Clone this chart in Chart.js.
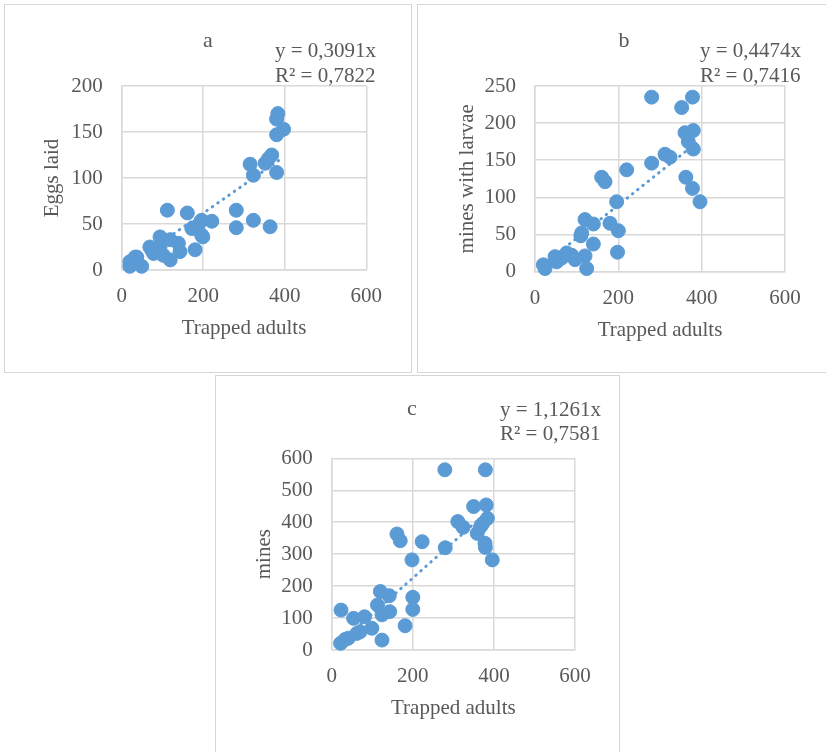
<!DOCTYPE html>
<html>
<head>
<meta charset="utf-8">
<script src="https://cdn.jsdelivr.net/npm/chart.js@4.4.1/dist/chart.umd.min.js"></script>
<style>
  html, body { margin: 0; padding: 0; background: #ffffff; overflow: hidden; }
  #page { position: relative; width: 826px; height: 752px; overflow: hidden; background: #fff; }
  .box { position: absolute; border: 1px solid #d6d6d6; box-sizing: border-box; }
  canvas { position: absolute; left: 0; top: 0; }
</style>
</head>
<body>
<div id="page">
  <div class="box" style="left:4px;top:4px;width:408px;height:369px;"></div>
  <div class="box" style="left:417px;top:4px;width:420px;height:369px;"></div>
  <div class="box" style="left:215px;top:375px;width:405px;height:400px;"></div>
  <canvas id="ca" width="826" height="752"></canvas>
  <canvas id="cb" width="826" height="752"></canvas>
  <canvas id="cc" width="826" height="752"></canvas>
</div>
<script>
// ---- Data ----
const xTicks = [0, 200, 400, 600];
const xTitle = 'Trapped adults';

// Panel a: Eggs laid vs trapped adults
const adultsA = [383,380,397,380,368,360,352,380,315,323,112,161,281,281,323,364,221,196,172,196,199,180,94,139,119,69,143,119,94,37,20,49,20,102,78,188,33];
const eggsA   = [170,164,153,147,125,121,116,106,115,103,65,62,65,46,54,47,53,54,45,38,36,22,36,29,33,25,20,11,25,14,9,4,4,16,18,49,14];
const slopeA = 0.3091;
const eqA = ['y = 0,3091x', 'R² = 0,7822'];

// Panel b: mines with larvae vs trapped adults
const adultsB = [280,378,352,360,380,368,380,312,324,280,220,160,168,362,378,396,196,180,200,120,140,112,140,198,120,124,96,76,48,52,20,24,64,88,110];
const larvaeB = [235,235,221,187,190,175,165,158,154,146,137,127,121,127,112,94,94,65,55,70,64,52,37,26,21,4,16,25,20,13,9,4,18,22,48];
const slopeB = 0.4474;
const eqB = ['y = 0,4474x', 'R² = 0,7416'];

// Panel c: mines vs trapped adults
const adultsC = [279,379,350,381,384,367,359,378,379,396,311,324,280,223,161,169,198,120,142,200,200,113,124,143,23,54,81,99,181,124,62,41,22,33,70,372];
const minesC  = [564,564,449,454,412,386,365,334,321,282,402,384,320,339,363,342,282,183,170,165,127,141,110,120,125,99,104,68,76,31,52,37,21,33,57,395];
const slopeC = 1.1261;
const eqC = ['y = 1,1261x', 'R² = 0,7581'];

// ---- Styling ----
const FONT = '"Liberation Serif", "Times New Roman", serif';
const TXT = '#595959';
const GRID = '#d9d9d9';
const BLUE = '#5B9BD5';

const textPlugin = {
  id: 'texts',
  afterDraw(chart, args, opts) {
    const ctx = chart.ctx;
    ctx.save();
    ctx.fillStyle = TXT;
    ctx.textBaseline = 'alphabetic';
    (opts.items || []).forEach(it => {
      ctx.font = it.size + 'px ' + FONT;
      ctx.textAlign = it.align || 'left';
      ctx.fillText(it.text, it.x, it.y);
    });
    ctx.restore();
  }
};

function makeChart(id, p) {
  const pts = p.xs.map((x, i) => ({ x: x, y: p.ys[i] }));
  const xmin = Math.min.apply(null, p.xs), xmax = Math.max.apply(null, p.xs);
  const trend = [{ x: xmin, y: p.slope * xmin }, { x: xmax, y: p.slope * xmax }];
  const half = 12.6;
  const font = { family: FONT, size: 21, lineHeight: 1.2 };
  new Chart(document.getElementById(id), {
    type: 'scatter',
    data: {
      datasets: [
        { type: 'line', data: trend, borderColor: BLUE, borderWidth: 3, borderDash: [0.5, 6.2],
          borderCapStyle: 'round', pointRadius: 0, fill: false, order: 0, clip: false },
        { data: pts, backgroundColor: BLUE, borderColor: BLUE, borderWidth: 1, pointRadius: 7,
          pointHoverRadius: 7, order: 1, clip: false }
      ]
    },
    options: {
      responsive: false, animation: false, devicePixelRatio: 1,
      events: [],
      layout: { padding: { left: p.yTitleX - half, top: p.t, right: 826 - p.r, bottom: 752 - p.xTitleY - half } },
      plugins: { legend: { display: false }, tooltip: { enabled: false }, texts: { items: p.texts } },
      scales: {
        x: {
          type: 'linear', min: 0, max: 600,
          afterBuildTicks: s => { s.ticks = xTicks.map(v => ({ value: v })); },
          ticks: { color: TXT, font: font, padding: 14 },
          grid: { color: GRID, lineWidth: 1.5, drawTicks: false },
          border: { display: true, color: GRID, width: 1.5 },
          title: { display: true, text: xTitle, color: TXT, font: font, padding: 0 },
          afterFit: s => { s.height = p.xTitleY + half - p.b; }
        },
        y: {
          type: 'linear', min: 0, max: p.yMax,
          afterBuildTicks: s => { s.ticks = p.yTicks.map(v => ({ value: v })); },
          ticks: { color: TXT, font: font, padding: 19 },
          grid: { color: GRID, lineWidth: 1.5, drawTicks: false },
          border: { display: true, color: GRID, width: 1.5 },
          title: { display: true, text: p.yTitle, color: TXT, font: font, padding: 0 },
          afterFit: s => { s.width = p.l - (p.yTitleX - half); }
        }
      }
    },
    plugins: [textPlugin]
  });
}

const yTicksA = [0, 50, 100, 150, 200];
const yTicksB = [0, 50, 100, 150, 200, 250];
const yTicksC = [0, 100, 200, 300, 400, 500, 600];

makeChart('ca', {
  xs: adultsA, ys: eggsA, slope: slopeA, yMax: 200, yTicks: yTicksA, yTitle: 'Eggs laid',
  l: 121.7, r: 366.3, t: 86, b: 270, yTitleX: 52, xTitleY: 328,
  texts: [
    { text: 'a', x: 208, y: 47, size: 22, align: 'center' },
    { text: eqA[0], x: 275, y: 57, size: 21 },
    { text: eqA[1], x: 275, y: 82, size: 21 }
  ]
});
makeChart('cb', {
  xs: adultsB, ys: larvaeB, slope: slopeB, yMax: 250, yTicks: yTicksB, yTitle: 'mines with larvae',
  l: 535, r: 785, t: 86, b: 271.5, yTitleX: 467, xTitleY: 330,
  texts: [
    { text: 'b', x: 624, y: 47, size: 22, align: 'center' },
    { text: eqB[0], x: 700, y: 57, size: 21 },
    { text: eqB[1], x: 700, y: 82, size: 21 }
  ]
});
makeChart('cc', {
  xs: adultsC, ys: minesC, slope: slopeC, yMax: 600, yTicks: yTicksC, yTitle: 'mines',
  l: 331.7, r: 575, t: 458.3, b: 650, yTitleX: 264, xTitleY: 708,
  texts: [
    { text: 'c', x: 412, y: 415, size: 22, align: 'center' },
    { text: eqC[0], x: 500, y: 416, size: 21 },
    { text: eqC[1], x: 500, y: 440, size: 21 }
  ]
});
</script>
</body>
</html>
